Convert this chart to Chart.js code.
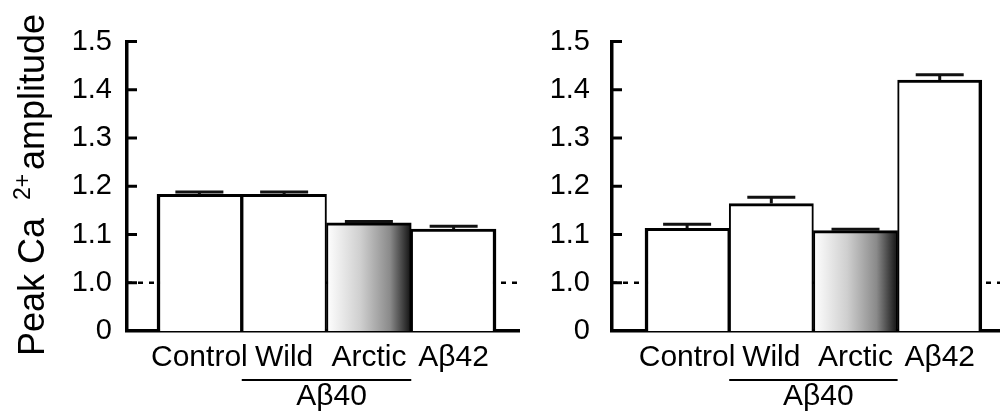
<!DOCTYPE html>
<html>
<head>
<meta charset="utf-8">
<script src="https://cdn.jsdelivr.net/npm/chart.js@4"></script>
<style>
  body { margin: 0; background: #fff; }
  #wrap { position: relative; width: 1000px; height: 416px; }
  #c1 { position: absolute; left: 0; top: 0; }
  #c2 { position: absolute; left: 520px; top: 0; }
</style>
</head>
<body>
<div id="wrap">
  <canvas id="c1" width="520" height="416"></canvas>
  <canvas id="c2" width="480" height="416"></canvas>
</div>
<script>
// Data
const categories = ['Control', 'Wild', 'Arctic', 'Aβ42'];
const groupLabel = 'Aβ40';
const groupMembers = ['Wild', 'Arctic'];
const leftMeans = [1.183, 1.183, 1.124, 1.111];
const leftErr = [0.005, 0.005, 0.003, 0.006];
const rightMeans = [1.113, 1.164, 1.108, 1.420];
const rightErr = [0.008, 0.013, 0.003, 0.011];
const yTicks = [0.9, 1.0, 1.1, 1.2, 1.3, 1.4, 1.5];
const yTickLabels = ['0', '1.0', '1.1', '1.2', '1.3', '1.4', '1.5'];
const refLine = 1.0;

const FONT = '"Liberation Sans", Arial, Helvetica, sans-serif';

function barFill(c) {
  if (categories[c.dataIndex] !== 'Arctic') return '#fff';
  const xs = c.chart.scales.x;
  if (!xs) return '#888';
  const l = xs.getPixelForValue(c.dataIndex - 0.5);
  const r = xs.getPixelForValue(c.dataIndex + 0.5);
  if (!isFinite(l) || !isFinite(r)) return '#888';
  const g = c.chart.ctx.createLinearGradient(l, 0, r, 0);
  g.addColorStop(0, '#ffffff');
  g.addColorStop(0.4, '#cfcfcf');
  g.addColorStop(0.75, '#8a8a8a');
  g.addColorStop(1, '#111111');
  return g;
}

// bars touch each other, so shared edges get half width
function barBorder(c) {
  const last = categories.length - 1;
  return {
    top: 3,
    bottom: 0,
    left: c.dataIndex === 0 ? 3.5 : 2,
    right: c.dataIndex === last ? 3.5 : 2
  };
}

// dashed baseline, inward ticks, error bars, group bracket
function decorations(errs, withTitle) {
  return {
    id: 'decor',
    beforeDatasetsDraw(chart) {
      const { ctx, chartArea: a, scales: { y } } = chart;
      ctx.save();
      ctx.strokeStyle = '#000';
      ctx.lineWidth = 2.5;
      ctx.setLineDash([5, 6]);
      const yy = y.getPixelForValue(refLine);
      ctx.beginPath();
      ctx.moveTo(a.left, yy);
      ctx.lineTo(a.right, yy);
      ctx.stroke();
      ctx.setLineDash([]);
      ctx.lineWidth = 3;
      yTicks.slice(1).forEach(v => {
        const p = y.getPixelForValue(v);
        ctx.beginPath();
        ctx.moveTo(a.left, p);
        ctx.lineTo(a.left + 10, p);
        ctx.stroke();
      });
      ctx.restore();
    },
    afterDatasetsDraw(chart) {
      const { ctx, scales: { x, y } } = chart;
      const data = chart.data.datasets[0].data;
      ctx.save();
      ctx.strokeStyle = '#111';
      ctx.lineWidth = 3;
      data.forEach((d, i) => {
        const cx = x.getPixelForValue(d.x);
        const y0 = y.getPixelForValue(d.y);
        const y1 = y.getPixelForValue(d.y + errs[i]);
        ctx.beginPath();
        ctx.moveTo(cx, y0);
        ctx.lineTo(cx, y1);
        ctx.moveTo(cx - 24, y1);
        ctx.lineTo(cx + 24, y1);
        ctx.stroke();
      });
      ctx.restore();
    },
    afterDraw(chart) {
      const { ctx, scales: { x } } = chart;
      const i0 = categories.indexOf(groupMembers[0]);
      const i1 = categories.indexOf(groupMembers[groupMembers.length - 1]);
      const l = x.getPixelForValue(i0 - 0.5);
      const r = x.getPixelForValue(i1 + 0.5);
      ctx.save();
      ctx.strokeStyle = '#000';
      ctx.lineWidth = 2;
      ctx.beginPath();
      ctx.moveTo(l, 380);
      ctx.lineTo(r, 380);
      ctx.stroke();
      ctx.fillStyle = '#000';
      ctx.font = '30px ' + FONT;
      ctx.textAlign = 'center';
      ctx.textBaseline = 'middle';
      ctx.fillText(groupLabel, (l + r) / 2 + 5, 397);

      if (withTitle) {
        ctx.translate(44, 356);
        ctx.rotate(-Math.PI / 2);
        ctx.textAlign = 'left';
        ctx.textBaseline = 'alphabetic';
        ctx.font = '36px ' + FONT;
        ctx.fillText('Peak Ca', 0, 0);
        ctx.font = '23px ' + FONT;
        ctx.fillText('2+', 156, -14);
        ctx.font = '36px ' + FONT;
        ctx.fillText('amplitude', 186, 0);
      }
      ctx.restore();
    }
  };
}

function makeChart(id, means, errs, yWidth, labelPad, xMin, xMax, withTitle) {
  return new Chart(document.getElementById(id), {
    type: 'bar',
    data: {
      datasets: [{
        data: categories.map((c, i) => ({ x: i, y: means[i] })),
        backgroundColor: barFill,
        borderColor: '#000',
        borderWidth: barBorder,
        borderSkipped: false,
        barPercentage: 1,
        categoryPercentage: 1
      }]
    },
    options: {
      responsive: false,
      animation: false,
      layout: { padding: { top: 41.5, right: 0, left: 0, bottom: 0 } },
      plugins: { legend: { display: false }, tooltip: { enabled: false } },
      scales: {
        x: {
          type: 'linear',
          offset: false,
          min: xMin,
          max: xMax,
          afterBuildTicks: s => { s.ticks = categories.map((c, i) => ({ value: i })); },
          afterFit: s => { s.height = 85; },
          ticks: {
            callback: v => categories[v],
            color: '#000',
            font: { family: FONT, size: 30 },
            padding: 9,
            maxRotation: 0,
            autoSkip: false
          },
          grid: { display: false, drawTicks: false, offset: false },
          border: { display: true, color: '#000', width: 3.5 }
        },
        y: {
          min: 0.9,
          max: 1.5,
          afterBuildTicks: s => { s.ticks = yTicks.map(v => ({ value: v })); },
          afterFit: s => { s.width = yWidth; },
          ticks: {
            callback: v => yTickLabels[yTicks.findIndex(t => Math.abs(t - v) < 1e-6)],
            color: '#000',
            font: { family: FONT, size: 29 },
            padding: labelPad
          },
          grid: { display: false, drawTicks: false },
          border: { display: true, color: '#000', width: 3.5 }
        }
      }
    },
    plugins: [decorations(errs, withTitle)]
  });
}

makeChart('c1', leftMeans, leftErr, 127, 15, -0.854, 3.783, true);
makeChart('c2', rightMeans, rightErr, 92, 22, -0.892, 3.716, false);
</script>
</body>
</html>
